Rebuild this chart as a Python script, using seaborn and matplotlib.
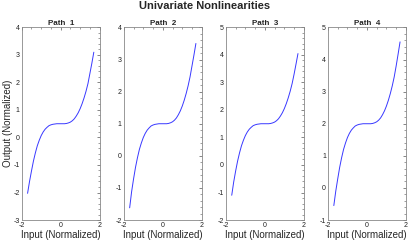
import numpy as np
import pandas as pd
import seaborn as sns
import matplotlib.pyplot as plt
from matplotlib.ticker import AutoMinorLocator

# input values (normalized)
x_in = [-1.7, -1.6, -1.5, -1.4, -1.3, -1.2, -1.1, -1.0, -0.9, -0.8, -0.7, -0.6,
        -0.5, -0.4, -0.3, -0.2, -0.1, 0.0, 0.1, 0.2, 0.3, 0.4, 0.5, 0.6,
        0.7, 0.8, 0.9, 1.0, 1.1, 1.2, 1.3, 1.4, 1.5, 1.6, 1.7]

path1 = [-2.03, -1.6, -1.22, -0.86, -0.56, -0.3, -0.1, 0.07, 0.2, 0.3, 0.37, 0.43,
         0.46, 0.48, 0.49, 0.5, 0.5, 0.5, 0.5, 0.5, 0.51, 0.53, 0.56, 0.61,
         0.68, 0.78, 0.9, 1.05, 1.23, 1.44, 1.68, 1.96, 2.33, 2.7, 3.1]
path2 = [-1.62, -1.12, -0.72, -0.36, -0.06, 0.2, 0.4, 0.57, 0.7, 0.8, 0.87, 0.93,
         0.96, 0.98, 0.99, 1.0, 1.0, 1.0, 1.0, 1.0, 1.01, 1.03, 1.06, 1.11,
         1.18, 1.28, 1.4, 1.55, 1.73, 1.94, 2.18, 2.46, 2.8, 3.14, 3.5]
path3 = [-1.1, -0.62, -0.22, 0.14, 0.44, 0.7, 0.9, 1.07, 1.2, 1.3, 1.37, 1.43,
         1.46, 1.48, 1.49, 1.5, 1.5, 1.5, 1.5, 1.5, 1.51, 1.53, 1.56, 1.61,
         1.68, 1.78, 1.9, 2.05, 2.23, 2.44, 2.68, 2.96, 3.3, 3.67, 4.05]
path4 = [-0.55, -0.1, 0.28, 0.64, 0.94, 1.2, 1.4, 1.57, 1.7, 1.8, 1.87, 1.93,
         1.96, 1.98, 1.99, 2.0, 2.0, 2.0, 2.0, 2.0, 2.01, 2.03, 2.06, 2.11,
         2.18, 2.28, 2.4, 2.55, 2.73, 2.94, 3.18, 3.46, 3.8, 4.17, 4.55]

titles = ["Path  1", "Path  2", "Path  3", "Path  4"]
ylims = [(-3, 4), (-2, 4), (-2, 5), (-1, 5)]

sns.set_style("white")
plt.rcParams['font.family'] = ['Liberation Sans', 'DejaVu Sans']
plt.rcParams['axes.unicode_minus'] = False

fig, axes = plt.subplots(1, 4, figsize=(4.1, 2.45), dpi=100)
fig.subplots_adjust(left=0.053, right=0.99, top=0.888, bottom=0.102, wspace=0.31)

for ax, ys, t, yl in zip(axes, [path1, path2, path3, path4], titles, ylims):
    df = pd.DataFrame({"x": x_in, "y": ys})
    sns.lineplot(x="x", y="y", data=df, ax=ax, color="#3838ff", lw=0.7)
    ax.set_xlim(-2, 2)
    ax.set_ylim(*yl)
    ax.set_xticks([-2, 0, 2])
    ax.set_yticks(np.arange(yl[0], yl[1] + 1, 1))
    ax.xaxis.set_minor_locator(AutoMinorLocator(4))
    ax.yaxis.set_minor_locator(AutoMinorLocator(5))
    ax.tick_params(which="both", direction="in", top=True, right=True,
                   labelsize=5, pad=1.5, color="#555555", labelcolor="#222222")
    ax.tick_params(which="major", length=2.5, width=0.5)
    ax.tick_params(which="minor", length=1.2, width=0.4)
    for s in ax.spines.values():
        s.set_color("#888888")
        s.set_linewidth(0.6)
    ax.set_title(t, fontsize=5.8, fontweight="bold", pad=2)
    ax.set_xlabel("Input (Normalized)", fontsize=7, labelpad=1)
    ax.set_ylabel("")

axes[0].set_ylabel("Output (Normalized)", fontsize=7, labelpad=0)
fig.suptitle("Univariate Nonlinearities", fontsize=8, fontweight="bold", y=0.995)

plt.savefig("out.png", dpi=100)
